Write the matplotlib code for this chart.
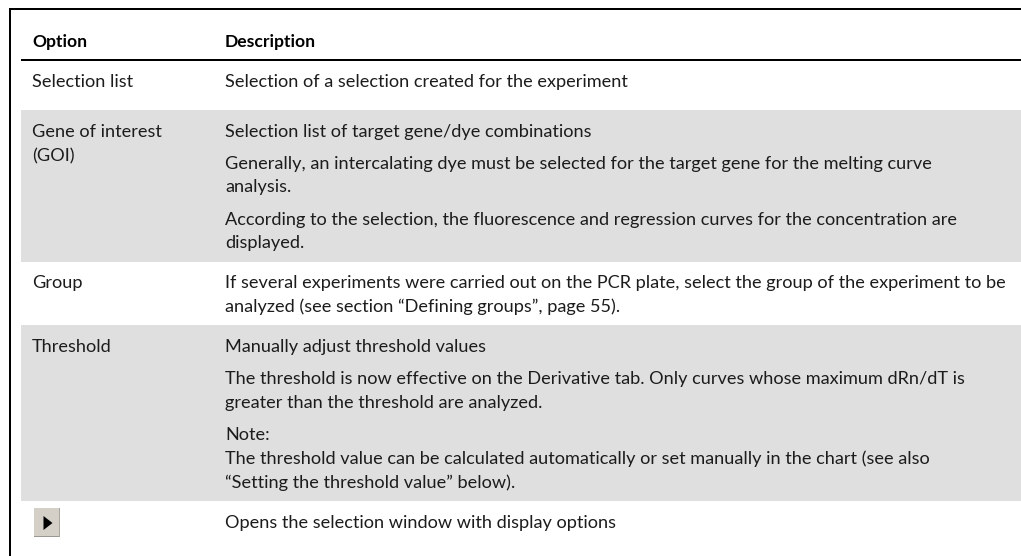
import matplotlib
matplotlib.use("Agg")
import matplotlib.pyplot as plt
from matplotlib.patches import Rectangle, Polygon

headers = ["Option", "Description"]
options = [
    ("Selection list", 87),
    ("Gene of interest", 137),
    ("(GOI)", 161),
    ("Group", 288),
    ("Threshold", 352),
]
descriptions = [
    ("Selection of a selection created for the experiment", 87),
    ("Selection list of target gene/dye combinations", 137),
    ("Generally, an intercalating dye must be selected for the target gene for the melting curve", 169),
    ("analysis.", 192),
    ("According to the selection, the fluorescence and regression curves for the concentration are", 225),
    ("displayed.", 248),
    ("If several experiments were carried out on the PCR plate, select the group of the experiment to be", 288),
    ("analyzed (see section \u201cDefining groups\u201d, page 55).", 312),
    ("Manually adjust threshold values", 352),
    ("The threshold is now effective on the Derivative tab. Only curves whose maximum dRn/dT is", 384),
    ("greater than the threshold are analyzed.", 408),
    ("Note:", 440),
    ("The threshold value can be calculated automatically or set manually in the chart (see also", 464),
    ("\u201cSetting the threshold value\u201d below).", 488),
    ("Opens the selection window with display options", 528),
]
shaded_rows = [(110, 262), (325, 501)]

W, H = 1021, 556
fig = plt.figure(figsize=(W / 100, H / 100), dpi=100, facecolor="white")
ax = fig.add_axes([0, 0, 1, 1])
ax.set_xlim(0, W)
ax.set_ylim(H, 0)
ax.axis("off")

for y0, y1 in shaded_rows:
    ax.add_patch(Rectangle((21, y0), W - 21, y1 - y0, fc="#dfdfdf", ec="none"))

ax.add_patch(Rectangle((9, 8), W - 9, 2, fc="black", ec="none"))
ax.add_patch(Rectangle((9, 8), 2, H - 8, fc="black", ec="none"))
ax.add_patch(Rectangle((21, 59), W - 21, 2, fc="black", ec="none"))

FONT = "Lato"
COLOR = "#1c1c1c"
ax.text(32, 47, headers[0], family=FONT, size=12.6, weight="bold", color="black", va="baseline")
ax.text(225, 47, headers[1], family=FONT, size=12.6, weight="bold", color="black", va="baseline")
for s, y in options:
    ax.text(32, y, s, family=FONT, size=13.1, color=COLOR, va="baseline")
for s, y in descriptions:
    ax.text(225, y, s, family=FONT, size=13.1, color=COLOR, va="baseline")

# button icon
ax.add_patch(Rectangle((34, 508), 26, 29, fc="#d4d0c8", ec="none"))
ax.add_patch(Rectangle((34, 535.5), 26, 1.5, fc="#9a9890", ec="none"))
ax.add_patch(Rectangle((58.5, 508), 1.5, 29, fc="#a8a69e", ec="none"))
ax.add_patch(Polygon([(43.5, 516), (43.5, 530), (52.5, 523)], fc="black", ec="none"))

fig.savefig("out.png", dpi=100)
